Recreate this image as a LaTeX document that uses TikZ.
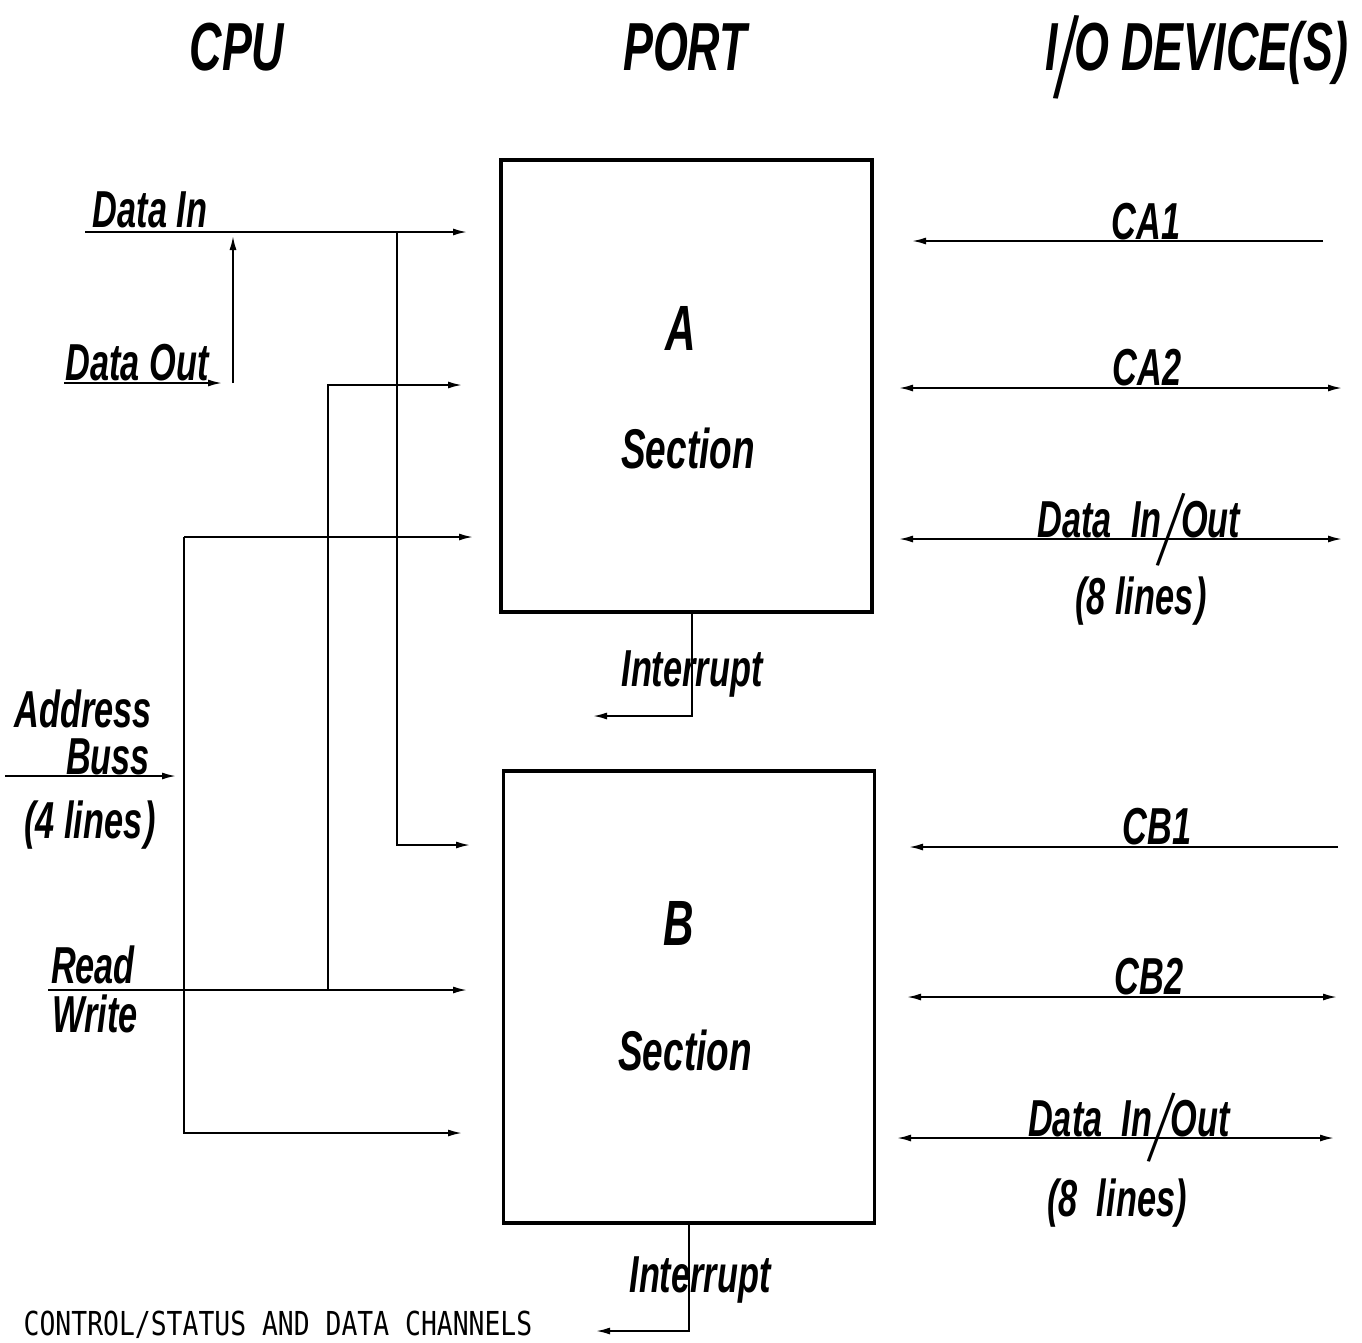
\documentclass[tikz,border=0pt]{standalone}
\usepackage{fontspec}
\setmainfont{Liberation Sans}[FakeStretch=0.66]
\newfontfamily\capfont{DejaVu Sans Mono}[FakeStretch=0.8]
\usepackage{tikz}
\usetikzlibrary{arrows.meta}
\usetikzlibrary{calc}
\usetikzlibrary{positioning}

% a slash that is longer than the font's own
\newcommand{\longslash}[4]{\kern-5pt\raisebox{#1}{\rotatebox{#4}{\scalebox{#2}[#3]{\mdseries\upshape/}}}\kern-5pt}

\begin{document}
\begin{tikzpicture}[x=1pt,y=-1pt,
  lab/.style={font=\fontsize{52}{52}\selectfont\bfseries\itshape,inner sep=0pt,anchor=base},
  ttl/.style={font=\fontsize{68}{68}\selectfont\bfseries\itshape,inner sep=0pt,anchor=base},
  big/.style={font=\fontsize{64}{64}\selectfont\bfseries\itshape,inner sep=0pt,anchor=base},
  sec/.style={draw,line width=3.5pt,minimum width=371pt,minimum height=452pt,inner sep=0pt},
  sig/.style={line width=1.8pt,-{Latex[length=14pt,width=7pt]}},
  bsig/.style={line width=1.8pt,{Latex[length=14pt,width=7pt]}-{Latex[length=14pt,width=7pt]}}]
\useasboundingbox (0,0) rectangle (1362,1342);
% titles
\path (237,70) node(cpu) [ttl] {CPU};
\path (685,70) node(port) [ttl] {PORT};
\path (1197,70) node(iodev) [ttl] {I\longslash{-0.4em}{1.4}{1.7}{-6}O DEVICE(S)};
% port sections
\path (686.5,386) node(secA) [sec] {};
\path (689,997) node(secB) [sec] {};
\path (681,350) node(letA) [big] {A};
\path (688,468) node(textA) [lab,font=\fontsize{56}{56}\selectfont\bfseries\itshape] {Section};
\path (679,945) node(letB) [big] {B};
\path (685,1070) node(textB) [lab,font=\fontsize{56}{56}\selectfont\bfseries\itshape] {Section};
% cpu side
\path (150,227) node(din) [lab] {Data In};
\path (137,380) node(dout) [lab] {Data Out};
\path (83,727) node(addr) [lab] {Address};
\path (108,774) node(buss) [lab] {Buss};
\path (90,838) node(four) [lab] {(4 lines\kern2pt)};
\path (93,983) node(rd) [lab] {Read};
\path (95,1032) node(wr) [lab] {Write};
\path (85,232) coordinate(din_s);
\path (467,232) coordinate(din_e);
\path (397,232) coordinate(din_j);
\path (470,845) coordinate(din_b);
\path (64,383) coordinate(dout_s);
\path (222,383) coordinate(dout_e);
\path (233,383) coordinate(dout_v);
\path (233,236) coordinate(dout_t);
\path (5,776) coordinate(addr_s);
\path (176,776) coordinate(addr_e);
\path (184,537) coordinate(addr_j);
\path (473,537) coordinate(addr_a);
\path (462,1133) coordinate(addr_b);
\path (48,990) coordinate(rw_s);
\path (467,990) coordinate(rw_e);
\path (328,990) coordinate(rw_j);
\path (462,385) coordinate(rw_a);
\draw[sig] (din_s) -- (din_e);
\draw[sig] (din_j) |- (din_b);
\draw[sig] (dout_s) -- (dout_e);
\draw[sig] (dout_v) -- (dout_t);
\draw[sig] (addr_s) -- (addr_e);
\draw[sig] (addr_j) -- (addr_a);
\draw[sig] (addr_j) |- (addr_b);
\draw[sig] (rw_s) -- (rw_e);
\draw[sig] (rw_j) |- (rw_a);
% interrupts
\path (692,612) coordinate(irqA_s);
\path (593,716) coordinate(irqA_e);
\path (689,1224) coordinate(irqB_s);
\path (596,1331) coordinate(irqB_e);
\draw[sig] (irqA_s) |- (irqA_e);
\draw[sig] (irqB_s) |- (irqB_e);
\path (692,686) node(irqA) [lab] {Interrupt};
\path (700,1292) node(irqB) [lab] {Interrupt};
% i/o device side
\path (1323,241) coordinate(ca1_s);
\path (912,241) coordinate(ca1_e);
\path (899,388) coordinate(ca2_l);
\path (1342,388) coordinate(ca2_r);
\path (899,539) coordinate(pa_l);
\path (1342,539) coordinate(pa_r);
\path (1338,847) coordinate(cb1_s);
\path (909,847) coordinate(cb1_e);
\path (907,997) coordinate(cb2_l);
\path (1337,997) coordinate(cb2_r);
\path (897,1138) coordinate(pb_l);
\path (1334,1138) coordinate(pb_r);
\draw[sig] (ca1_s) -- (ca1_e);
\draw[bsig] (ca2_l) -- (ca2_r);
\draw[bsig] (pa_l) -- (pa_r);
\draw[sig] (cb1_s) -- (cb1_e);
\draw[bsig] (cb2_l) -- (cb2_r);
\draw[bsig] (pb_l) -- (pb_r);
\path (1146,239) node(ca1) [lab] {CA1};
\path (1147,385) node(ca2) [lab] {CA2};
\path (1139,537) node(pa) [lab] {Data\ \ In\longslash{-0.52em}{1.2}{2.0}{-14}Out};
\path (1141,614) node(pa8) [lab] {(8 lines\kern2pt)};
\path (1157,844) node(cb1) [lab] {CB1};
\path (1149,994) node(cb2) [lab] {CB2};
\path (1129,1136) node(pb) [lab] {Data\ \ In\longslash{-0.48em}{1.2}{1.9}{-14}Out};
\path (1117,1216) node(pb8) [lab] {(8\ \ lines)};
% caption
\path (278,1335) node(capt) [inner sep=0pt,anchor=base,font=\capfont\fontsize{33}{33}\selectfont] {CONTROL/STATUS AND DATA CHANNELS};
\end{tikzpicture}
\end{document}
